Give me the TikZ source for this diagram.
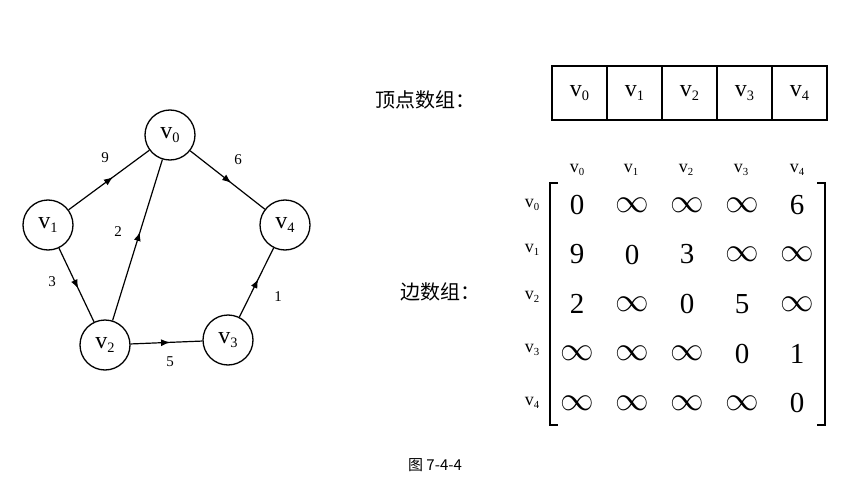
\documentclass[tikz,border=0pt]{standalone}
\usepackage{fontspec}
\setmainfont{Liberation Serif}
\newfontfamily\cjk{Noto Sans CJK SC}
\usetikzlibrary{decorations.markings,arrows.meta}
\newcommand{\vv}[1]{v\raisebox{-0.35ex}{\scalebox{0.6}{#1}}}
\begin{document}
\begin{tikzpicture}[x=1pt,y=-1pt,
 vert/.style={circle,draw,line width=1.3pt,minimum size=50pt,inner sep=0pt,font=\fontsize{24}{24}\selectfont},
 edge/.style={line width=1.2pt,postaction={decorate},decoration={markings,mark=at position 0.55 with {\arrow{Latex[length=9pt,width=7pt]}}}},
 lab/.style={font=\fontsize{15}{15}\selectfont},
 cell/.style={draw,line width=1.2pt,minimum width=55pt,minimum height=54pt,inner sep=0pt,font=\fontsize{24}{24}\selectfont},
 ent/.style={font=\fontsize{29}{29}\selectfont},
 hd/.style={font=\fontsize{18}{18}\selectfont}]
\useasboundingbox (0,0) rectangle (867,484);
\node[vert] (v0) at (170,135) {\vv0};
\node[vert] (v1) at (48,225) {\vv1};
\node[vert] (v4) at (285,225) {\vv4};
\node[vert] (v2) at (105,345) {\vv2};
\node[vert] (v3) at (228,340) {\vv3};
\draw[edge] (v1) -- (v0);
\draw[edge] (v0) -- (v4);
\draw[edge] (v2) -- (v0);
\draw[edge] (v1) -- (v2);
\draw[edge] (v2) -- (v3);
\draw[edge] (v3) -- (v4);
\node[lab] (l9) at (105,158) {9};
\node[lab] (l6) at (238,160) {6};
\node[lab] (l2) at (118,232) {2};
\node[lab] (l3) at (52,282) {3};
\node[lab] (l5) at (170,362) {5};
\node[lab] (l1) at (278,297) {1};
\node[font=\cjk\fontsize{20}{20}\selectfont] (t1) at (425,100) {顶点数组：};
\foreach \i in {0,...,4}{
 \node[cell] (c\i) at ({579.5+55*\i},93) {\vv{\i}};
}
\node[font=\cjk\fontsize{20}{20}\selectfont] (t2) at (440,292) {边数组：};
\foreach \i/\x in {0/577,1/631,2/686,3/741,4/797}{
 \node[hd] (h\i) at (\x,170) {\vv{\i}};
}
\foreach \i/\y in {0/205,1/250,2/297,3/350,4/403}{
 \node[hd] (r\i) at (532,\y) {\vv{\i}};
}
\def\inf{\scalebox{1.35}{$\mathbf{\infty}$}}
\foreach \row [count=\r from 0] in {{0,\inf,\inf,\inf,6},{9,0,3,\inf,\inf},{2,\inf,0,5,\inf},{\inf,\inf,\inf,0,1},{\inf,\inf,\inf,\inf,0}}{
 \foreach \e [count=\c from 0] in \row {
  \pgfmathsetmacro{\xx}{577+55*\c}
  \pgfmathsetmacro{\yy}{205+49.5*\r}
  \node[ent] (m\r\c) at (\xx,\yy) {\e};
 }
}
\coordinate (bl1) at (558,183); \coordinate (bl2) at (550,183);
\coordinate (bl3) at (550,425); \coordinate (bl4) at (558,425);
\draw[line width=1.3pt] (bl1) -- (bl2) -- (bl3) -- (bl4);
\coordinate (br1) at (817,183); \coordinate (br2) at (825,183);
\coordinate (br3) at (825,425); \coordinate (br4) at (817,425);
\draw[line width=1.3pt] (br1) -- (br2) -- (br3) -- (br4);
\node[font=\cjk\fontsize{15}{15}\selectfont] (cap) at (435,465) {图 7-4-4};
\end{tikzpicture}
\end{document}
